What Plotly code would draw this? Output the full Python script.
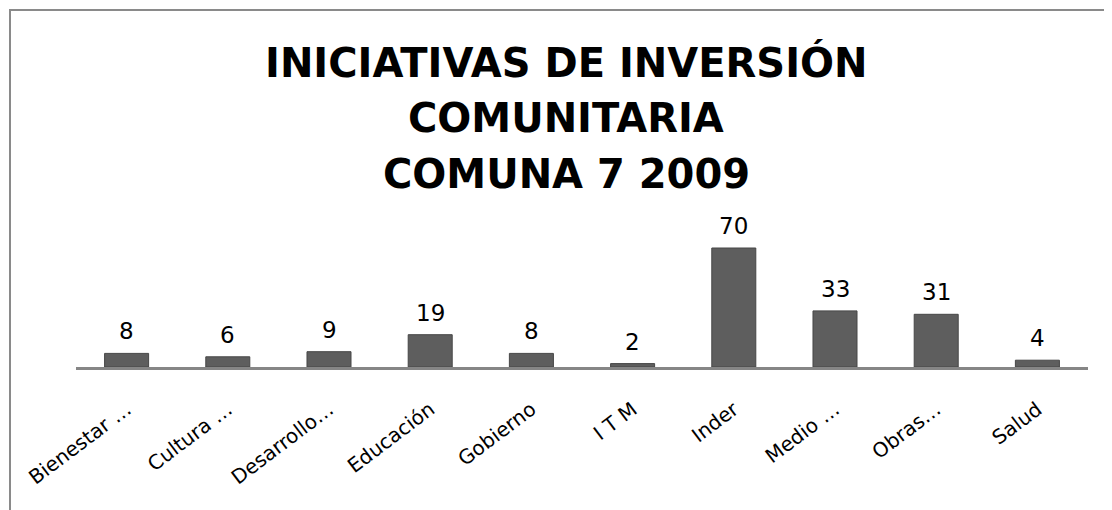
import plotly.graph_objects as go

categorias = ["Bienestar …", "Cultura …", "Desarrollo…", "Educación", "Gobierno",
              "I T M", "Inder", "Medio …", "Obras…", "Salud"]
iniciativas = [8, 6, 9, 19, 8, 2, 70, 33, 31, 4]
titulo = ["INICIATIVAS DE INVERSIÓN", "COMUNITARIA", "COMUNA 7 2009"]

FUENTE = "DejaVu Sans"

fig = go.Figure()
fig.add_trace(go.Bar(
    x=categorias, y=iniciativas,
    marker=dict(color="#5e5e5e", line=dict(color="#474747", width=1)),
    hoverinfo="x+y",
))

# etiquetas de valor encima de cada barra
for c, v in zip(categorias, iniciativas):
    fig.add_annotation(x=c, y=v, text=str(v), showarrow=False,
                       yanchor="bottom", yshift=7,
                       font=dict(family=FUENTE, size=23, color="black"))

# titulo en tres lineas (la pagina tiene 8px de margen en el body)
for i, linea in enumerate(titulo):
    fig.add_annotation(x=(566 - 76) / 1012, xref="paper", y=(367 - 62 - i * 56) / 136, yref="paper",
                       text=f"<b>{linea}</b>", showarrow=False, yanchor="middle",
                       font=dict(family=FUENTE, size=40, color="black"))

# borde del area del grafico
fig.add_shape(type="rect", xref="paper", yref="paper",
              x0=(10 - 76) / 1012, x1=1.2, y0=-1.5, y1=(367 - 10) / 136,
              line=dict(color="#8a8a8a", width=2), fillcolor="rgba(0,0,0,0)", layer="below")

fig.update_layout(
    width=1104, height=502,
    paper_bgcolor="white", plot_bgcolor="white",
    font=dict(family=FUENTE, color="black", size=20),
    showlegend=False,
    bargap=0.565,
    margin=dict(l=68, r=24, t=223, b=143),
    xaxis=dict(showline=True, linecolor="#868686", linewidth=3, ticks="",
               tickangle=-37, ticklabelstandoff=20, tickfont=dict(size=20),
               showgrid=False, fixedrange=True),
    yaxis=dict(range=[0, 80], visible=False, showgrid=False, zeroline=False, fixedrange=True),
)

fig.write_html("out.html")
